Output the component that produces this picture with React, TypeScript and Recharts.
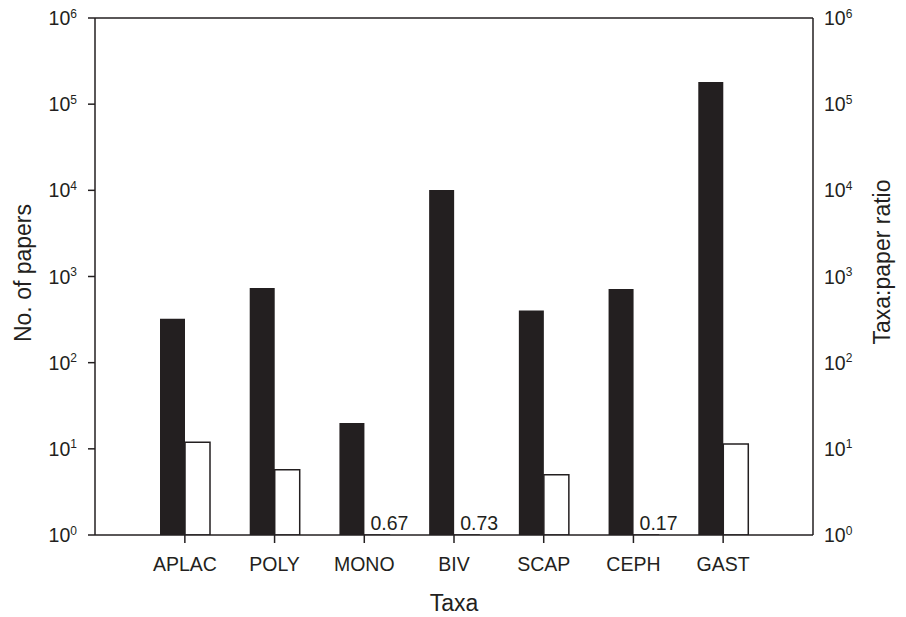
import { BarChart, Bar, XAxis, YAxis, ReferenceLine, LabelList } from "recharts";

// values
const TAXA = ["APLAC", "POLY", "MONO", "BIV", "SCAP", "CEPH", "GAST"];
const PAPERS = [323, 735, 20, 10100, 403, 715, 181000];
const RATIO = [11.9, 5.7, 0.67, 0.73, 5.0, 0.17, 11.4];
const LOG_TICKS = [1, 10, 100, 1000, 10000, 100000, 1000000];

const INK = "#231f20";
const FONT = '"Liberation Sans", Arial, Helvetica, sans-serif';

const data = TAXA.map((taxon, i) => ({ taxon, papers: PAPERS[i], ratio: RATIO[i] }));

function PowerTick({ x, y, payload, anchor }: any) {
  const exp = Math.round(Math.log10(payload.value));
  return (
    <text x={x} y={y} textAnchor={anchor} fill={INK} fontFamily={FONT} fontSize={19.5}>
      <tspan dy={7}>10</tspan>
      <tspan dy={-7.5} fontSize={12}>{exp}</tspan>
    </text>
  );
}

function TaxonTick({ x, y, payload }: any) {
  return (
    <text x={x} y={y} dy={28} textAnchor="middle" fill={INK} fontFamily={FONT} fontSize={19.5}>
      {payload.value}
    </text>
  );
}

// ratios below 1 fall under the axis; print the number instead
function SmallRatioLabel(props: any) {
  const box = props.viewBox ?? props;
  const { x, y, height } = box;
  const value = Number(props.value);
  if (!(value < 1)) return null;
  const base = Math.min(y, y + height);
  return (
    <text x={x + 6} y={base - 5} fill={INK} fontFamily={FONT} fontSize={19.5}>
      {value.toFixed(2)}
    </text>
  );
}

export default function App() {
  return (
    <div style={{ position: "absolute", left: 0, top: 0, background: "#fff" }}>
      <BarChart
        width={906}
        height={617}
        data={data}
        margin={{ top: 18, right: 0, bottom: 0, left: 0 }}
        barSize={25}
        barGap={0}
      >
        <XAxis
          dataKey="taxon"
          interval={0}
          height={82}
          padding={{ left: 45, right: 45 }}
          tickSize={8}
          tickMargin={0}
          axisLine={{ stroke: INK, strokeWidth: 1.5 }}
          tickLine={{ stroke: INK, strokeWidth: 1.5 }}
          tick={<TaxonTick />}
          label={{
            content: ({ viewBox }: any) => (
              <text
                x={viewBox.x + viewBox.width / 2}
                y={viewBox.y + 76}
                textAnchor="middle"
                fill={INK}
                fontFamily={FONT}
                fontSize={23}
              >
                Taxa
              </text>
            ),
          }}
        />
        <YAxis
          yAxisId="left"
          scale="log"
          domain={[1, 1000000]}
          ticks={LOG_TICKS}
          allowDataOverflow
          width={95}
          tickSize={7}
          tickMargin={11}
          axisLine={{ stroke: INK, strokeWidth: 1.5 }}
          tickLine={{ stroke: INK, strokeWidth: 1.5 }}
          tick={<PowerTick anchor="end" />}
          label={{
            content: ({ viewBox }: any) => {
              const cx = viewBox.x + 31;
              const cy = 273;
              return (
                <text
                  x={cx}
                  y={cy}
                  transform={`rotate(-90, ${cx}, ${cy})`}
                  textAnchor="middle"
                  fill={INK}
                  fontFamily={FONT}
                  fontSize={23}
                >
                  No. of papers
                </text>
              );
            },
          }}
        />
        <YAxis
          yAxisId="right"
          orientation="right"
          scale="log"
          domain={[1, 1000000]}
          ticks={LOG_TICKS}
          allowDataOverflow
          width={93}
          tickSize={0}
          tickMargin={11}
          tickLine={false}
          axisLine={{ stroke: INK, strokeWidth: 1.5 }}
          tick={<PowerTick anchor="start" />}
          label={{
            content: ({ viewBox }: any) => {
              const cx = viewBox.x + 77;
              const cy = 262;
              return (
                <text
                  x={cx}
                  y={cy}
                  transform={`rotate(-90, ${cx}, ${cy})`}
                  textAnchor="middle"
                  fill={INK}
                  fontFamily={FONT}
                  fontSize={23}
                >
                  Taxa:paper ratio
                </text>
              );
            },
          }}
        />
        <ReferenceLine yAxisId="left" y={1000000} stroke={INK} strokeWidth={1.5} />
        <Bar yAxisId="left" dataKey="papers" fill={INK} isAnimationActive={false} />
        <Bar
          yAxisId="right"
          dataKey="ratio"
          fill="#fff"
          stroke={INK}
          strokeWidth={1.5}
          isAnimationActive={false}
        >
          <LabelList dataKey="ratio" content={<SmallRatioLabel />} />
        </Bar>
      </BarChart>
    </div>
  );
}
